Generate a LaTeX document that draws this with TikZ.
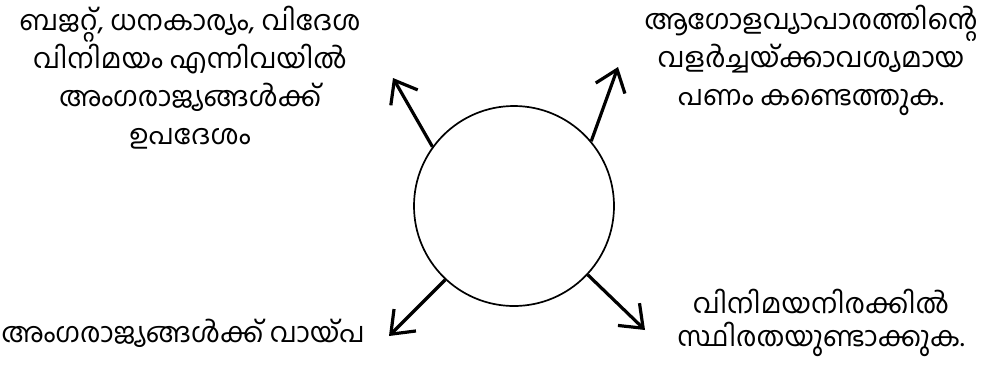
\documentclass[tikz,border=0pt]{standalone}
\usepackage{fontspec}
\newfontfamily\malfont[Script=Malayalam]{Hind Kochi}
\usetikzlibrary{arrows.meta}

\begin{document}
\begin{tikzpicture}[x=1pt,y=-1pt,>={Straight Barb[length=20pt,width=31pt]},font=\malfont\fontsize{27.5}{38}\selectfont]
  \tikzset{role/.style={align=center,inner sep=0pt},
    outarrow/.style={->,line width=3.2pt},
    hub/.style={draw,circle,line width=1.7pt,minimum size=200pt,inner sep=0pt}}
  \useasboundingbox (0,0) rectangle (987,365);

  \node[hub] (imf) at (514,206) {};

  \node[role] (advice) at (190,78) {ബജറ്റ്, ധനകാര്യം, വിദേശ\\വിനിമയം എന്നിവയിൽ\\അംഗരാജ്യങ്ങൾക്ക്\\ഉപദേശം};
  \node[role] (fund) at (811,60) {ആഗോളവ്യാപാരത്തിന്റെ\\വളർച്ചയ്ക്കാവശ്യമായ\\പണം കണ്ടെത്തുക.};
  \node[role] (loan) at (183,333) {അംഗരാജ്യങ്ങൾക്ക് വായ്പ};
  \node[role,font=\malfont\fontsize{27.5}{33}\selectfont] (rate) at (821,323) {വിനിമയനിരക്കിൽ\\സ്ഥിരതയുണ്ടാക്കുക.};

  \coordinate (advicetip) at (393,78);
  \coordinate (fundtip) at (618,67);
  \coordinate (loantip) at (389,336);
  \coordinate (ratetip) at (645,330);

  \draw[outarrow] (imf.144) -- (advicetip);
  \draw[outarrow] (imf.40) -- (fundtip);
  \draw[outarrow] (imf.227) -- (loantip);
  \draw[outarrow] (imf.-43) -- (ratetip);
\end{tikzpicture}
\end{document}
